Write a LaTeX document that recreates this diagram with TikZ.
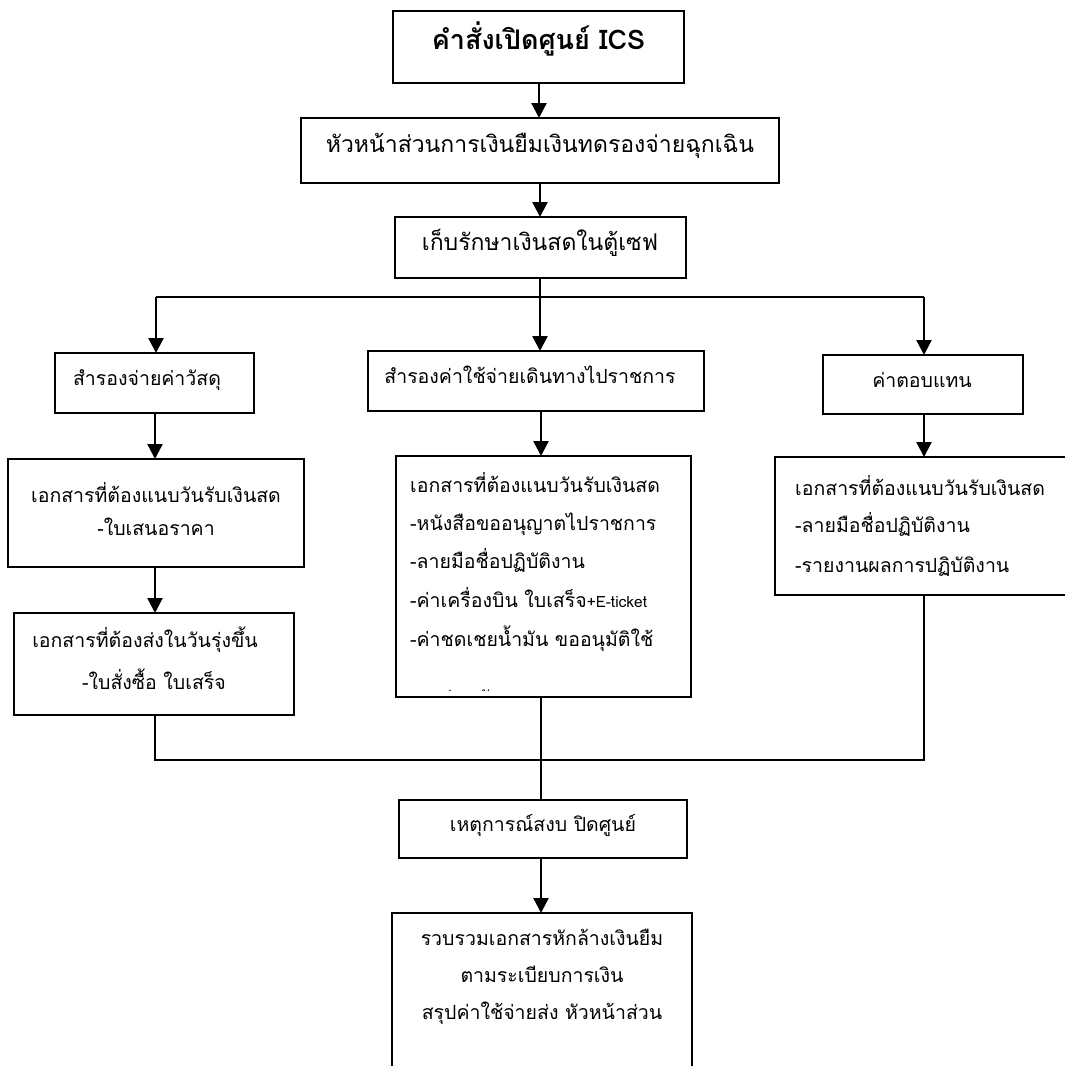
\documentclass[tikz,border=0pt]{standalone}
\usepackage{fontspec}
\newfontfamily\thai[Script=Thai]{Loma}
\usetikzlibrary{arrows.meta,calc}
\newcommand\mkbox[5]{\node[box, minimum width={(#4-#2)*1pt}, minimum height={(#5-#3)*1pt}] (#1) at ({(#2+#4)/2},{(#3+#5)/2}) {};}
\newcommand\smalllat[1]{{\fontsize{15.5}{18}\selectfont #1}}
\begin{document}
\begin{tikzpicture}[x=1pt,y=-1pt,
  box/.style={draw, line width=1.7pt, inner sep=0pt, outer sep=0pt},
  txt/.style={font=\thai\fontsize{19.5}{23}\selectfont, inner sep=0pt, anchor=mid},
  bigtxt/.style={txt, font=\thai\fontsize{23}{26}\selectfont},
  ltxt/.style={txt, anchor=mid west},
  conn/.style={line width=1.7pt},
  arr/.style={line width=2.3pt, -{Triangle[width=15pt,length=15pt]}},
]
\useasboundingbox (0,0) rectangle (1065,1066);
\clip (0,0) rectangle (1065,1066);
\fill[white] (0,0) rectangle (1065,1066);

% boxes
\node[box, line width=2.4pt, minimum width=291pt, minimum height=72pt] (t1) at (538.5,47) {};
\mkbox{t2}{301}{118}{779}{183}
\mkbox{t3}{395}{217}{686}{278}
\mkbox{l1}{55}{353}{254}{413}
\mkbox{m1}{368}{351}{704}{411}
\mkbox{r1}{823}{355}{1023}{414}
\mkbox{l2}{8}{459}{304}{567}
\mkbox{m2}{396}{456}{691}{697}
\mkbox{r2}{775}{457}{1090}{595}
\mkbox{l3}{14}{613}{294}{715}
\mkbox{e1}{399}{800}{687}{858}
\mkbox{fin}{392}{913}{692}{1090}

% texts
\node[txt, font=\thai\bfseries\fontsize{27}{30}\selectfont] (t1t) at (538.5,47) {คำสั่งเปิดศูนย์ ICS};
\node[bigtxt] (t2t) at (540,150) {หัวหน้าส่วนการเงินยืมเงินทดรองจ่ายฉุกเฉิน};
\node[bigtxt] (t3t) at (540,248) {เก็บรักษาเงินสดในตู้เซฟ};
\node[txt] (l1t) at (147,383) {สำรองจ่ายค่าวัสดุ};
\node[txt] (m1t) at (530,381) {สำรองค่าใช้จ่ายเดินทางไปราชการ};
\node[txt] (r1t) at (922,385) {ค่าตอบแทน};
\node[txt] (l2a) at (156,500) {เอกสารที่ต้องแนบวันรับเงินสด};
\node[txt] (l2b) at (156,533) {-ใบเสนอราคา};
\node[txt] (l3a) at (145,645) {เอกสารที่ต้องส่งในวันรุ่งขึ้น};
\node[txt] (l3b) at (154,687) {-ใบสั่งซื้อ ใบเสร็จ};
\node[ltxt] (m2a) at (410,490) {เอกสารที่ต้องแนบวันรับเงินสด};
\node[ltxt] (m2b) at (410,528) {-หนังสือขออนุญาตไปราชการ};
\node[ltxt] (m2c) at (410,566) {-ลายมือชื่อปฏิบัติงาน};
\node[ltxt] (m2d) at (410,605) {-ค่าเครื่องบิน ใบเสร็จ\smalllat{+E-ticket}};
\node[ltxt] (m2e) at (410,644) {-ค่าชดเชยน้ำมัน ขออนุมัติใช้};
\begin{scope}
\clip (396,600) rectangle (691,690);
\node[ltxt] (m2f) at (418,703) {รถส่วนตัว};
\end{scope}
\node[ltxt] (r2a) at (795,493) {เอกสารที่ต้องแนบวันรับเงินสด};
\node[ltxt] (r2b) at (795,530) {-ลายมือชื่อปฏิบัติงาน};
\node[ltxt] (r2c) at (795,570) {-รายงานผลการปฏิบัติงาน};
\node[txt] (e1t) at (543,829) {เหตุการณ์สงบ ปิดศูนย์};
\node[txt] (f1) at (542,943) {รวบรวมเอกสารหักล้างเงินยืม};
\node[txt] (f2) at (542,980) {ตามระเบียบการเงิน};
\node[txt] (f3) at (542,1017) {สรุปค่าใช้จ่ายส่ง หัวหน้าส่วน};

% connectors
\coordinate (bl) at (156,297);
\coordinate (bm) at (540,297);
\coordinate (brr) at (924,297);
\draw[arr] (t1.south -| 539,0) -- (t2.north -| 539,0);
\draw[arr] (t2.south -| 540,0) -- (t3.north -| 540,0);
\draw[arr] (t3.south -| bm) -- (m1.north -| bm);
\draw[conn, line width=2pt] (bl) -- (brr);
\draw[arr] (bl) -- (l1.north -| bl);
\draw[arr] (brr) -- (r1.north -| brr);
\draw[arr] (l1.south -| 155,0) -- (l2.north -| 155,0);
\draw[arr] (l2.south -| 155,0) -- (l3.north -| 155,0);
\draw[arr] (m1.south -| 541,0) -- (m2.north -| 541,0);
\draw[arr] (r1.south -| 924,0) -- (r2.north -| 924,0);

\coordinate (ml) at (155,760);
\coordinate (mm) at (541,760);
\coordinate (mr) at (924,760);
\draw[conn] (l3.south -| ml) -- (ml) -- (mr) -- (r2.south -| mr);
\draw[conn] (m2.south -| mm) -- (e1.north -| mm);
\draw[arr] (e1.south -| 541,0) -- (fin.north -| 541,0);
\end{tikzpicture}
\end{document}
